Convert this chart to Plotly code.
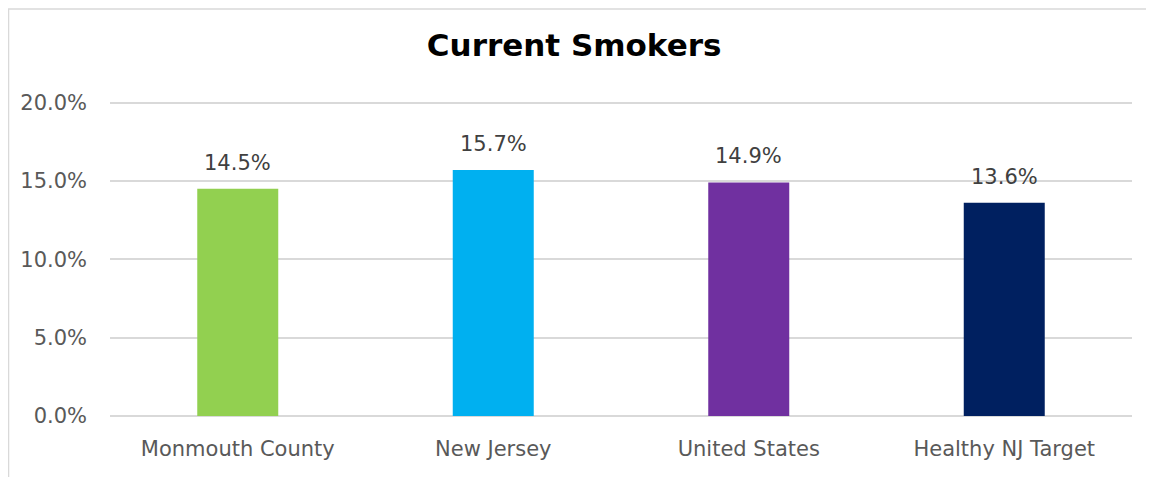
import plotly.graph_objects as go

# data
categories = ["Monmouth County", "New Jersey", "United States", "Healthy NJ Target"]
values = [14.5, 15.7, 14.9, 13.6]
colors = ["#92D050", "#00B0F0", "#7030A0", "#002060"]
tick_vals = [0, 5, 10, 15, 20]
tick_text = ["0.0%", "5.0%", "10.0%", "15.0%", "20.0%"]

FONT = "DejaVu Sans"

fig = go.Figure(
    go.Bar(
        x=categories,
        y=values,
        marker={"color": colors, "line": {"width": 0}},
        hoverinfo="skip",
    )
)

# value labels above the bars
for cat, v in zip(categories, values):
    fig.add_annotation(
        x=cat,
        y=v,
        text=f"{v:.1f}%",
        showarrow=False,
        yanchor="bottom",
        yshift=12,
        font={"size": 21, "family": FONT, "color": "#404040"},
    )

# chart frame
fig.add_shape(
    type="rect",
    xref="paper",
    yref="paper",
    x0=-0.0993,
    x1=1.0165,
    y0=-0.25,
    y1=1.292,
    line={"color": "#D9D9D9", "width": 1.5},
    fillcolor="rgba(0,0,0,0)",
)

fig.update_layout(
    width=1146,
    height=469,
    margin={"l": 102, "r": 22, "t": 93, "b": 61},
    paper_bgcolor="white",
    plot_bgcolor="white",
    bargap=0.683,
    showlegend=False,
    font={"family": FONT, "color": "#595959", "size": 21},
    title={
        "text": "<b>Current Smokers</b>",
        "x": 0.494,
        "xanchor": "center",
        "y": 0.921,
        "yanchor": "middle",
        "font": {"size": 31, "family": FONT, "color": "black"},
    },
    xaxis={
        "showgrid": False,
        "showline": False,
        "ticks": "",
        "tickfont": {"size": 21, "color": "#595959"},
        "ticklabelstandoff": 18,
    },
    yaxis={
        "range": [0, 20.1],
        "tickvals": tick_vals,
        "ticktext": tick_text,
        "showgrid": True,
        "gridcolor": "#D9D9D9",
        "gridwidth": 1.5,
        "zeroline": True,
        "zerolinecolor": "#D9D9D9",
        "zerolinewidth": 1.5,
        "showline": False,
        "ticks": "",
        "tickfont": {"size": 21, "color": "#595959"},
        "ticklabelstandoff": 22,
    },
)

fig.write_html("out.html")
